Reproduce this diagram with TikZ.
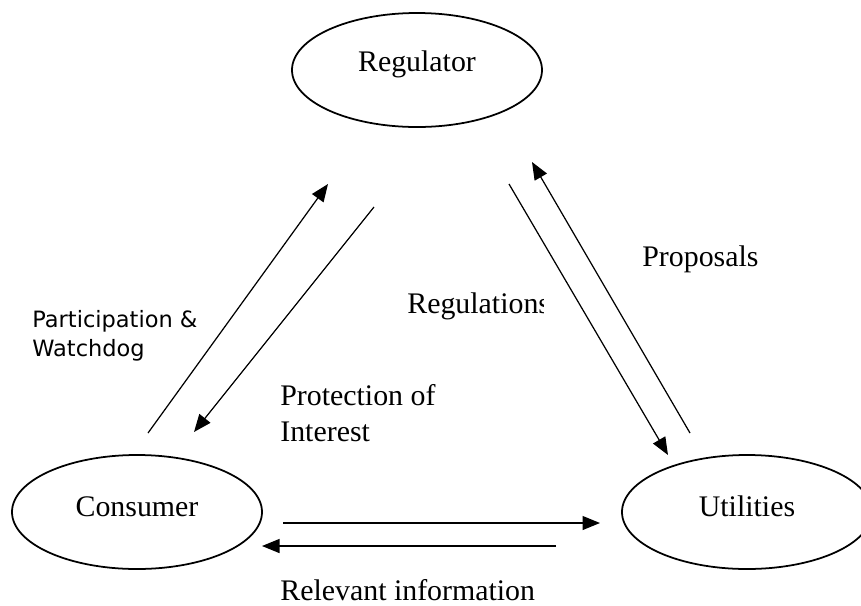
\documentclass[tikz,border=0pt]{standalone}
\usepackage{fontspec}
\setmainfont{Liberation Serif}
\newfontfamily\labelsans{DejaVu Sans}
\usetikzlibrary{arrows.meta, shapes.geometric}
\tikzset{
  >={Triangle[length=3.5mm, width=2.8mm]},
  party/.style={ellipse, draw, line width=1pt, minimum width=50mm, minimum height=22.8mm, inner sep=0pt},
  flow/.style={->, line width=0.7pt},
  lbl/.style={font=\fontsize{17}{20.4}\selectfont, inner sep=0pt, align=left},
  lbls/.style={font=\labelsans\fontsize{12.8}{16.4}\selectfont, inner sep=0pt, align=left},
  partyname/.style={lbl, anchor=base, yshift=1.1mm},
}

\begin{document}
\begin{tikzpicture}[x=0.2mm, y=-0.2mm]
  \useasboundingbox (0,0) rectangle (861,605);
  \clip (0,0) rectangle (861,605);
  % the three parties
  \node[party, label={[partyname]center:Regulator}] (reg) at (417,70) {};
  \node[party, label={[partyname]center:Consumer}] (cons) at (137,512) {};
  \node[party, label={[partyname]center:Utilities}] (util) at (747,512) {};
  % arrow ends
  \coordinate (pw-s) at (148,433);  \coordinate (pw-e) at (328,184);
  \coordinate (pi-s) at (374,207);  \coordinate (pi-e) at (194,432);
  \coordinate (rg-s) at (509,184);  \coordinate (rg-e) at (668,455);
  \coordinate (pp-s) at (690,433);  \coordinate (pp-e) at (532,162);
  \coordinate (cu-s) at (283,523);  \coordinate (cu-e) at (600,523);
  \coordinate (ri-s) at (556,546);  \coordinate (ri-e) at (262,546);
  \draw[flow] (pw-s) -- (pw-e);
  \draw[flow] (pi-s) -- (pi-e);
  \draw[flow] (rg-s) -- (rg-e);
  \draw[flow] (pp-s) -- (pp-e);
  \draw[flow] (cu-s) -- (cu-e);
  \draw[flow] (ri-s) -- (ri-e);
  % labels
  \node[lbls, anchor=west] (watch) at (32,336) {Participation \&\\Watchdog};
  \node[lbl, anchor=west] (prot) at (280,413) {Protection of\\Interest};
  \begin{scope}
    \clip (400,270) rectangle (543,330);
    \node[lbl, anchor=base west] (regs) at (407,313) {Regulations};
  \end{scope}
  \node[lbl, anchor=base west] (prop) at (642,266) {Proposals};
  \node[lbl, anchor=base west] (info) at (280,600) {Relevant information};
\end{tikzpicture}
\end{document}
